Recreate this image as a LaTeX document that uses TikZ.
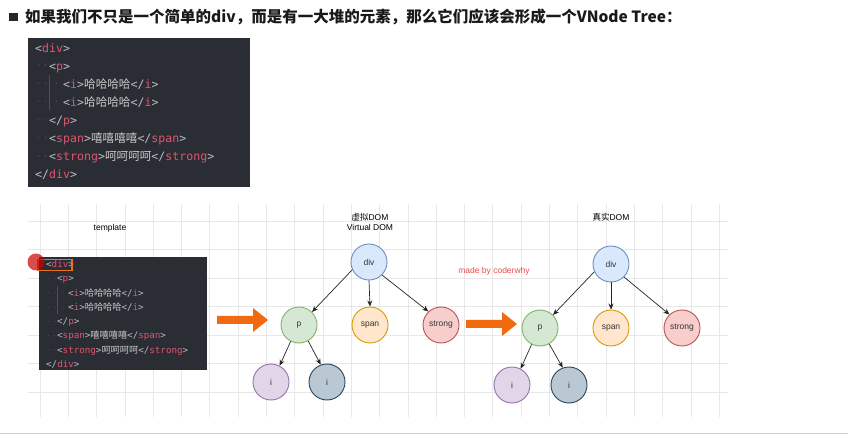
\documentclass[tikz,border=0pt]{standalone}
\usepackage{fontspec}
\setmainfont{Liberation Sans}
\newfontfamily\cjk{Noto Sans CJK SC}
\newfontfamily\codefont{DejaVu Sans Mono}
\usepackage{xcolor}
\usetikzlibrary{arrows.meta, calc}

\definecolor{codebg}{HTML}{2B2D35}
\definecolor{tagred}{HTML}{E0556C}
\definecolor{codegray}{HTML}{B9BDC5}
\definecolor{cjkgray}{HTML}{C9C9C9}
\definecolor{guidegray}{HTML}{4C4F58}
\definecolor{gridgray}{HTML}{E8E8E8}
\definecolor{arroworange}{HTML}{F26A10}
\definecolor{hiorange}{HTML}{E8731E}
\definecolor{madered}{HTML}{F04A4A}
\definecolor{divfill}{HTML}{DAE8FC}\definecolor{divline}{HTML}{6C8EBF}
\definecolor{pfill}{HTML}{D5E8D4}\definecolor{pline}{HTML}{82B366}
\definecolor{spanfill}{HTML}{FFE6CC}\definecolor{spanline}{HTML}{D79B00}
\definecolor{strongfill}{HTML}{F8CECC}\definecolor{strongline}{HTML}{B85450}
\definecolor{ifill}{HTML}{E1D5E7}\definecolor{iline}{HTML}{9673A6}
\definecolor{iifill}{HTML}{BAC8D3}\definecolor{iiline}{HTML}{23445D}

\newcommand{\tg}[1]{\textcolor{tagred}{#1}}
\newcommand{\zh}[1]{{\cjk\color{cjkgray}#1}}

\begin{document}
\begin{tikzpicture}[
    x=1pt, y=-1pt,
    font=\fontsize{8.5}{10}\selectfont,
    % grid paper behind the drawing
    gridline/.style={draw=gridgray, line width=0.8pt},
    % code editor boxes
    codebox/.style={fill=codebg, anchor=north west, inner sep=0},
    codebig/.style={anchor=base west, inner sep=0, text=codegray, font=\codefont\fontsize{11.6}{14}\selectfont},
    codesmall/.style={anchor=base west, inner sep=0, text=codegray, font=\codefont\fontsize{9.2}{11}\selectfont},
    guide/.style={draw=guidegray, line width=0.6pt},
    % tree nodes and links
    vnode/.style={circle, line width=0.9pt, minimum size=36pt, inner sep=0, text=black!80},
    link/.style={-{Stealth[length=6pt, width=5pt]}, line width=0.7pt, black!85},
    blockarrow/.style={fill=arroworange},
    lbl/.style={inner sep=0, align=center}
]

\useasboundingbox[fill=white] (0,0) rectangle (848,435);

% ---------------------------------------------------
% 1. HEADING AND TOP CODE BOX
% ---------------------------------------------------
\node[fill=black!85, minimum size=8.5pt, inner sep=0] (bullet) at (13.5,17) {};
\node[anchor=west, inner sep=0, text=black!90, font=\cjk\bfseries\fontsize{15.5}{18}\selectfont] (heading) at (25,17)
    {如果我们不只是一个简单的div，而是有一大堆的元素，那么它们应该会形成一个VNode Tree：};

\node[codebox, minimum width=222pt, minimum height=149pt] (topbox) at (28,38) {};
\draw[guide] (49.5,75) -- (49.5,110);
\foreach \y in {65, 119.9, 137.9, 155.8}
    \foreach \x in {38.5, 45.5} \fill[guidegray] (\x,\y) circle (0.8);
\foreach \y in {83.2, 101.2}
    \foreach \x in {38.5, 45.5, 56.5} \fill[guidegray] (\x,\y) circle (0.8);
\node[codebig] (topdiv) at (35,52.5) {<\tg{div}>};
\node[codebig] (topp) at (49,70.5) {<\tg{p}>};
\node[codebig] (topi) at (63,88.4) {<\tg{i}>\zh{哈哈哈哈}</\tg{i}>};
\node[codebig] (topii) at (63,106.4) {<\tg{i}>\zh{哈哈哈哈}</\tg{i}>};
\node[codebig] (toppend) at (49,124.3) {</\tg{p}>};
\node[codebig] (topspan) at (49,142.3) {<\tg{span}>\zh{嘻嘻嘻嘻}</\tg{span}>};
\node[codebig] (topstrong) at (49,160.2) {<\tg{strong}>\zh{呵呵呵呵}</\tg{strong}>};
\node[codebig] (topdivend) at (35,178.2) {</\tg{div}>};

% ---------------------------------------------------
% 2. GRID PAPER
% ---------------------------------------------------
\foreach \k in {0,...,24}
    \draw[gridline] ({40+28.3*\k},204) -- ({40+28.3*\k},417);
\foreach \k in {0,...,6}
    \draw[gridline] (28,{221.5+28.4*\k}) -- (728,{221.5+28.4*\k});

% ---------------------------------------------------
% 3. TEMPLATE BOX
% ---------------------------------------------------
\node[lbl] (tpllabel) at (110,228) {template};
\node[codebox, minimum width=168pt, minimum height=113pt] (tplbox) at (39,257) {};
\draw[guide] (57.5,286) -- (57.5,314);
\foreach \y in {278.7, 321.3, 335.5, 349.7}
    \foreach \x in {48.8, 54.3} \fill[guidegray] (\x,\y) circle (0.6);
\foreach \y in {292.9, 307.1}
    \foreach \x in {48.8, 54.3, 62.9} \fill[guidegray] (\x,\y) circle (0.6);
\node[codesmall] (tpldiv) at (46,267.8) {<\tg{div}>};
\node[codesmall] (tplp) at (57,282) {<\tg{p}>};
\node[codesmall] (tpli) at (68,296.2) {<\tg{i}>\zh{哈哈哈哈}</\tg{i}>};
\node[codesmall] (tplii) at (68,310.4) {<\tg{i}>\zh{哈哈哈哈}</\tg{i}>};
\node[codesmall] (tplpend) at (57,324.6) {</\tg{p}>};
\node[codesmall] (tplspan) at (57,338.8) {<\tg{span}>\zh{嘻嘻嘻嘻}</\tg{span}>};
\node[codesmall] (tplstrong) at (57,353) {<\tg{strong}>\zh{呵呵呵呵}</\tg{strong}>};
\node[codesmall] (tpldivend) at (46,367.2) {</\tg{div}>};
\draw[hiorange, line width=1.1pt] (38,259.5) rectangle (72,270.5);
\fill[red!80!black, opacity=0.7] (36,262) circle (8.5);

% ---------------------------------------------------
% 4. VIRTUAL DOM TREE
% ---------------------------------------------------
\node[lbl] (vtitle) at (370,221.5) {{\cjk 虚拟}DOM\\Virtual DOM};
\node[vnode, fill=divfill, draw=divline] (vdiv) at (369,262) {div};
\node[vnode, fill=pfill, draw=pline] (vp) at (299,325) {p};
\node[vnode, fill=spanfill, draw=spanline] (vspan) at (370,325) {span};
\node[vnode, fill=strongfill, draw=strongline] (vstrong) at (441,325) {strong};
\node[vnode, fill=ifill, draw=iline] (vi) at (271,382) {i};
\node[vnode, fill=iifill, draw=iiline] (vii) at (327,382) {i};

\draw[link] (vdiv.205) -- (vp.45);
\draw[link] (vdiv.south) -- (vspan.north);
\draw[link] (vdiv.-45) -- (vstrong.133);
\draw[link] (vp.243) -- (vi.62);
\draw[link] (vp.300) -- (vii.110);

\node[lbl, text=madered] (credit) at (494,271) {made by coderwhy};

% ---------------------------------------------------
% 5. REAL DOM TREE
% ---------------------------------------------------
\node[lbl] (rtitle) at (611,217) {{\cjk 真实}DOM};
\node[vnode, fill=divfill, draw=divline] (rdiv) at (611,264) {div};
\node[vnode, fill=pfill, draw=pline] (rp) at (540,328) {p};
\node[vnode, fill=spanfill, draw=spanline] (rspan) at (611,328) {span};
\node[vnode, fill=strongfill, draw=strongline] (rstrong) at (682,328) {strong};
\node[vnode, fill=ifill, draw=iline] (ri) at (512,385) {i};
\node[vnode, fill=iifill, draw=iiline] (rii) at (569,385) {i};

\draw[link] (rdiv.205) -- (rp.45);
\draw[link] (rdiv.south) -- (rspan.north);
\draw[link] (rdiv.-45) -- (rstrong.133);
\draw[link] (rp.243) -- (ri.62);
\draw[link] (rp.300) -- (rii.110);

% ---------------------------------------------------
% 6. BIG ORANGE ARROWS AND BOTTOM RULE
% ---------------------------------------------------
\fill[blockarrow] (217,316) -- (253,316) -- (253,308) -- (268,320) -- (253,332) -- (253,324) -- (217,324) -- cycle;
\fill[blockarrow] (466,320) -- (502,320) -- (502,312) -- (517,324) -- (502,336) -- (502,328) -- (466,328) -- cycle;

\draw[black!18, line width=1.5pt] (0,433.5) -- (848,433.5);

\end{tikzpicture}
\end{document}
